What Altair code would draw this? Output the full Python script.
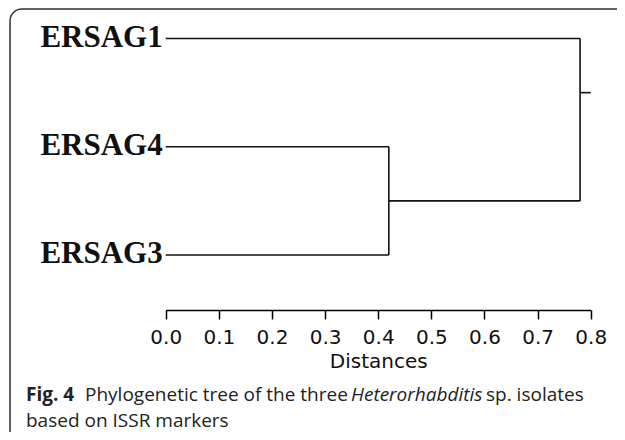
import altair as alt
import pandas as pd

# ---- data ----
leaf_names = ["ERSAG1", "ERSAG4", "ERSAG3"]
leaf_rows = [0, 1, 2]
leaf_dist = [0.0, 0.0, 0.0]
leaf_parent_dist = [0.78, 0.42, 0.42]

# internal nodes: joining distance, row span of their children, own row
node_dist = [0.42, 0.78]
node_child_rows = [(1, 2), (0, 1.5)]
node_rows = [1.5, 0.5]
node_parent_dist = [0.78, 0.80]   # root stub ends at 0.80

axis_ticks = [0.0, 0.1, 0.2, 0.3, 0.4, 0.5, 0.6, 0.7, 0.8]
axis_title = "Distances"

caption_parts = ["Fig. 4", "Phylogenetic tree of the three", "Heterorhabditis", "sp. isolates"]
caption_line2 = "based on ISSR markers"

# ---- build segments ----
segs = []
for name, r, d0, d1 in zip(leaf_names, leaf_rows, leaf_dist, leaf_parent_dist):
    segs.append({"x": d0, "x2": d1, "y": r, "y2": r})
for d, (r0, r1), r, dp in zip(node_dist, node_child_rows, node_rows, node_parent_dist):
    segs.append({"x": d, "x2": d, "y": r0, "y2": r1})
    segs.append({"x": d, "x2": dp, "y": r, "y2": r})
seg_df = pd.DataFrame(segs)
leaf_df = pd.DataFrame({"name": leaf_names, "row": leaf_rows, "dist": leaf_dist})

xscale = alt.Scale(domain=[0, 0.8], range=[157.7, 582.7], nice=False, zero=False)
yscale = alt.Scale(domain=[0, 2], range=[30.5, 247], nice=False, zero=False)
xaxis = alt.Axis(values=axis_ticks, format=".1f", title=axis_title, grid=False,
                 domainColor="black", domainWidth=1.5, tickColor="black", tickWidth=1.5,
                 tickSize=9, labelFont="DejaVu Sans", labelFontSize=20, labelColor="#111",
                 labelPadding=8, labelFlush=False, labelOverlap=False,
                 titleFont="DejaVu Sans", titleFontSize=20, titleFontWeight="normal",
                 titleColor="#111", titlePadding=4)

tree = alt.Chart(seg_df).mark_rule(color="#111", strokeWidth=1.6).encode(
    x=alt.X("x:Q", scale=xscale, axis=xaxis),
    x2="x2:Q",
    y=alt.Y("y:Q", scale=yscale, axis=None),
    y2="y2:Q",
)

labels = alt.Chart(leaf_df).mark_text(
    align="right", baseline="middle", dx=-3, dy=-1,
    font="Liberation Serif", fontWeight="bold", fontSize=31, color="#111"
).encode(
    x=alt.X("dist:Q", scale=xscale, axis=xaxis),
    y=alt.Y("row:Q", scale=yscale, axis=None),
    text="name:N",
)

# decorative rounded frame (pixel space, no scale)
frame = alt.Data(values=[{"fx": 2, "fy": 1, "fx2": 900, "fy2": 900}])
border = alt.Chart(frame).mark_rect(fillOpacity=0, stroke="#333", strokeWidth=1.5, cornerRadius=12).encode(
    x=alt.X("fx:Q", scale=None, axis=None),
    x2="fx2:Q",
    y=alt.Y("fy:Q", scale=None, axis=None),
    y2="fy2:Q",
)

one = alt.Data(values=[{}])
cap_style = dict(align="left", baseline="alphabetic", font="Open Sans", fontSize=19, color="#222")
cap_x = [18, 77, 343, 478]
cap_w = ["bold", "normal", "normal", "normal"]
cap_i = ["normal", "normal", "italic", "normal"]
cap_layers = []
for t, xv, w, s in zip(caption_parts, cap_x, cap_w, cap_i):
    cap_layers.append(
        alt.Chart(one).mark_text(fontWeight=w, fontStyle=s, **cap_style).encode(
            x=alt.value(xv), y=alt.value(393), text=alt.value(t)
        )
    )
cap_layers.append(
    alt.Chart(one).mark_text(**cap_style).encode(
        x=alt.value(18), y=alt.value(419), text=alt.value(caption_line2)
    )
)

chart = alt.layer(border, tree, labels, *cap_layers).properties(
    width=609, height=302, autosize="none", background="white",
    padding={"left": 0, "top": 0, "right": 0, "bottom": 122},
).configure_view(strokeWidth=0, strokeOpacity=0)

chart.save("out.html", embed_options={"renderer": "svg", "actions": False})
